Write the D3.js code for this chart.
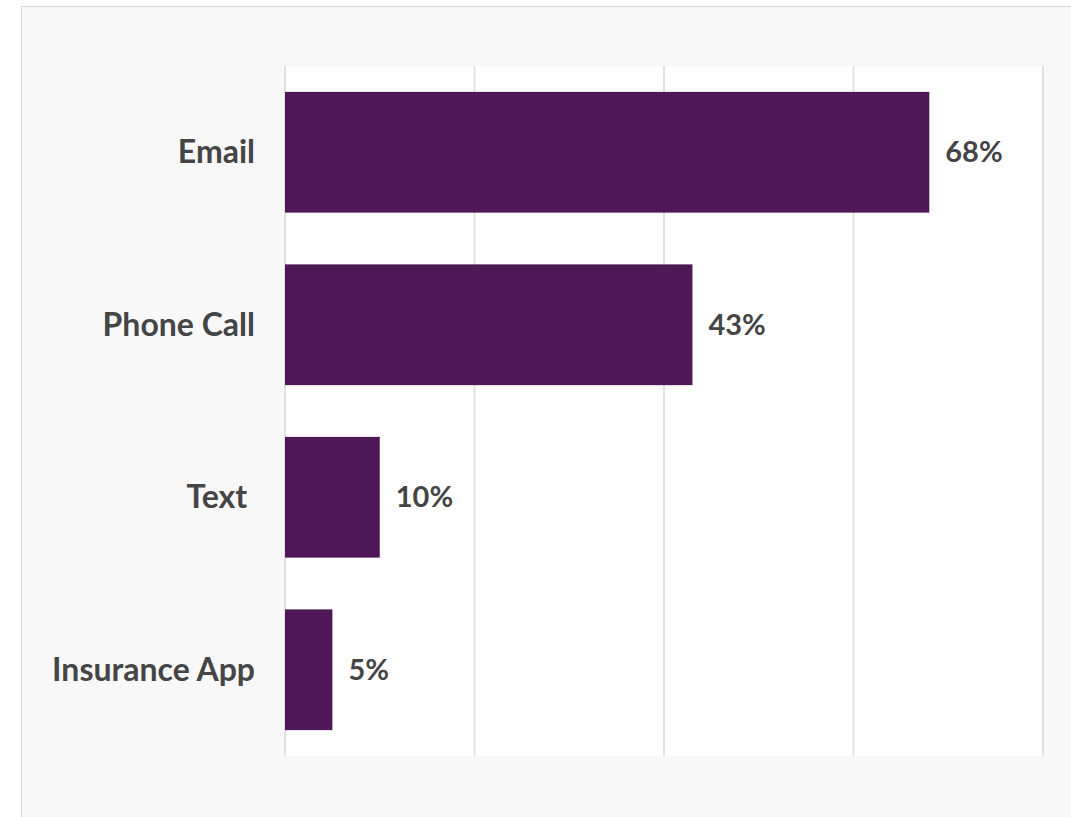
<!DOCTYPE html>
<html>
<head>
<script src="https://cdn.jsdelivr.net/npm/d3@7"></script>
<style>
  body { margin: 0; background: #fff; }
  svg text { font-family: "Source Sans Pro", Lato, "Open Sans", sans-serif; font-weight: bold; fill: #454545; white-space: pre; }
</style>
</head>
<body>
<script>
var categories = ["Email", "Phone Call", "Text ", "Insurance App"];
var values = [68, 43, 10, 5];
var gridTicks = [0, 20, 40, 60, 80];

var width = 1071, height = 817;
var plot = { left: 285, right: 1043, top: 66, bottom: 756 };

var svg = d3.select("body").append("svg")
    .attr("width", width)
    .attr("height", height);

// outer panel
svg.append("rect")
    .attr("x", 21.5).attr("y", 6.5)
    .attr("width", width).attr("height", height)
    .attr("fill", "#f8f8f8")
    .attr("stroke", "#d6d4de");

var x = d3.scaleLinear().domain([0, 80]).range([plot.left, plot.right]);
var y = d3.scaleBand().domain(categories)
    .range([plot.top, plot.bottom])
    .paddingInner(0.3).paddingOuter(0.15);

svg.append("rect")
    .attr("x", plot.left).attr("y", plot.top)
    .attr("width", plot.right - plot.left).attr("height", plot.bottom - plot.top)
    .attr("fill", "#fff");

svg.selectAll("line.grid")
    .data(gridTicks)
    .enter().append("line")
    .attr("class", "grid")
    .attr("x1", function(d) { return x(d); })
    .attr("x2", function(d) { return x(d); })
    .attr("y1", plot.top).attr("y2", plot.bottom)
    .attr("stroke", "#e2e2e2")
    .attr("stroke-width", 2);

var data = categories.map(function(c, i) { return { cat: c, val: values[i] }; });

svg.selectAll("rect.bar")
    .data(data)
    .enter().append("rect")
    .attr("class", "bar")
    .attr("x", x(0))
    .attr("y", function(d) { return y(d.cat); })
    .attr("width", function(d) { return x(d.val) - x(0); })
    .attr("height", y.bandwidth())
    .attr("fill", "#4e1756");

svg.selectAll("text.cat")
    .data(data)
    .enter().append("text")
    .attr("class", "cat")
    .attr("x", 255)
    .attr("y", function(d) { return y(d.cat) + y.bandwidth() / 2; })
    .attr("dy", "0.35em")
    .attr("text-anchor", "end")
    .attr("font-size", "32px")
    .text(function(d) { return d.cat; });

svg.selectAll("text.val")
    .data(data)
    .enter().append("text")
    .attr("class", "val")
    .attr("x", function(d) { return x(d.val) + 16; })
    .attr("y", function(d) { return y(d.cat) + y.bandwidth() / 2; })
    .attr("dy", "0.35em")
    .attr("font-size", "29px")
    .text(function(d) { return d.val + "%"; });
</script>
</body>
</html>
